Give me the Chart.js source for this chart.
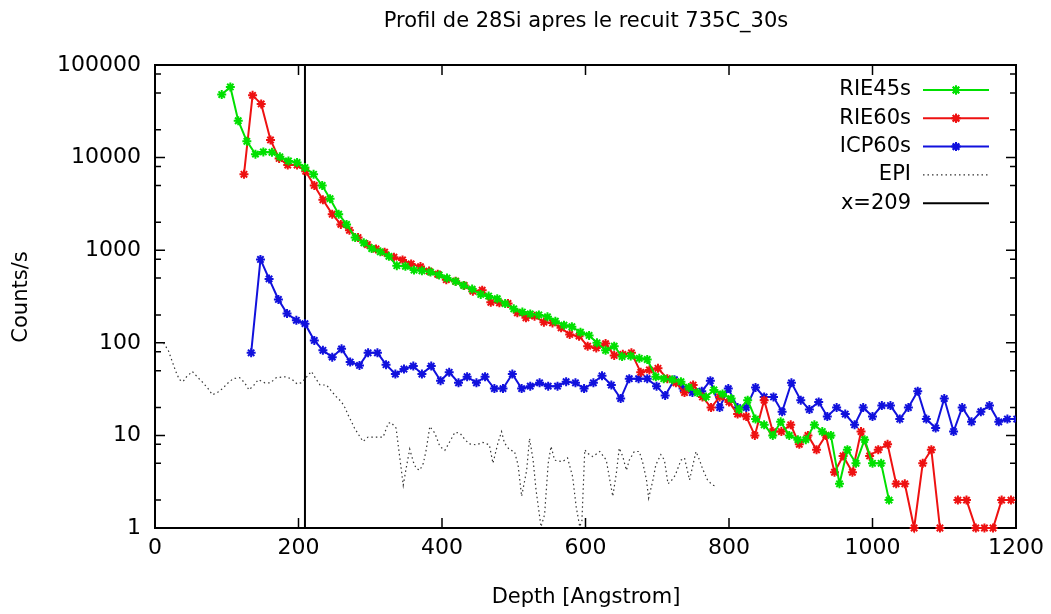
<!DOCTYPE html>
<html>
<head>
<meta charset="utf-8">
<script src="https://cdn.jsdelivr.net/npm/chart.js@4.4.1/dist/chart.umd.min.js"></script>
<style>
  html, body { margin: 0; padding: 0; background: #fff; }
  canvas { display: block; }
</style>
</head>
<body>
<canvas id="profil" width="1051" height="614"></canvas>
<script>
// depth in Angstrom / counts per second
var rie45Depth = [93, 105, 116, 128, 140, 151, 163, 174, 186, 198,
  209, 221, 233, 244, 256, 267, 279, 291, 302, 314,
  326, 337, 349, 361, 372, 384, 396, 407, 419, 430,
  442, 454, 465, 477, 488, 500, 512, 523, 535, 547,
  558, 570, 581, 593, 605, 616, 628, 640, 651, 663,
  675, 686, 698, 709, 721, 733, 744, 756, 768, 779,
  791, 803, 814, 826, 837, 849, 861, 872, 884, 896,
  907, 919, 930, 942, 954, 965, 977, 989, 1000, 1012,
  1023];
var rie45Counts = [48000, 58000, 25000, 15000, 10900, 11500, 11400, 10200, 9200, 8850,
  7800, 6600, 5000, 3600, 2450, 1900, 1370, 1200, 1040, 960,
  860, 680, 670, 610, 600, 580, 540, 500, 460, 417,
  380, 333, 320, 299, 265, 233, 215, 205, 200, 191,
  171, 155, 149, 130, 120, 100, 83, 92, 71, 72,
  68, 66, 43, 41, 40, 38, 33, 29, 26, 31,
  28, 25, 19, 24, 15, 13, 10, 14, 10, 9,
  9, 13, 11, 10, 3, 7, 5, 9, 5, 5,
  2];

var rie60Depth = [124, 136, 148, 161, 173, 185, 198, 210, 222, 234,
  247, 259, 271, 283, 296, 308, 320, 333, 345, 357,
  370, 382, 394, 406, 419, 431, 443, 456, 468, 480,
  492, 505, 517, 529, 542, 554, 566, 578, 591, 603,
  615, 628, 640, 652, 664, 677, 689, 701, 714, 726,
  738, 750, 763, 775, 787, 800, 812, 824, 836, 849,
  861, 873, 886, 898, 910, 922, 935, 947, 959, 972,
  984, 996, 1008, 1021, 1033, 1045, 1058, 1070, 1082, 1094,
  1107, 1119, 1131, 1144, 1156, 1168, 1180, 1193];
var rie60Counts = [6600, 47000, 38000, 15500, 9800, 8300, 8300, 7100, 5000, 3500,
  2450, 1900, 1640, 1370, 1150, 1030, 950, 840, 785, 710,
  665, 595, 550, 480, 463, 416, 361, 370, 274, 270,
  266, 211, 186, 194, 167, 164, 145, 123, 118, 92,
  88, 98, 73, 75, 78, 48, 51, 53, 41, 37,
  29, 35, 26, 20, 26, 23, 17, 16, 10, 24,
  11, 11, 13, 8, 10, 7, 10, 4, 6, 4,
  11, 6, 7, 8, 3, 3, 1, 5, 7, 1,
  null, 2, 2, 1, 1, 1, 2, 2];

var icp60Depth = [134, 147, 159, 172, 184, 197, 209, 222, 234, 247,
  260, 272, 285, 297, 310, 322, 335, 347, 360, 372,
  385, 398, 410, 423, 435, 448, 460, 473, 485, 498,
  511, 523, 536, 548, 561, 573, 586, 598, 611, 623,
  636, 649, 661, 674, 686, 699, 711, 724, 736, 749,
  762, 774, 787, 799, 812, 824, 837, 849, 862, 874,
  887, 900, 912, 925, 937, 950, 962, 975, 987, 1000,
  1013, 1025, 1038, 1050, 1063, 1075, 1088, 1100, 1113, 1125,
  1138, 1151, 1163, 1176, 1188, 1201];
var icp60Counts = [78, 795, 490, 294, 207, 175, 161, 106, 83, 70,
  86, 62, 57, 78, 78, 58, 46, 52, 56, 46,
  56, 39, 48, 37, 43, 37, 43, 32, 32, 46,
  32, 34, 37, 34, 34, 38, 37, 32, 37, 44,
  35, 25, 41, 41, 41, 34, 27, 40, 32, 29,
  30, 39, 20, 32, 20, 20, 33, 26, 26, 18,
  37, 24, 19, 23, 16, 20, 17, 13, 20, 16,
  21, 21, 15, 20, 30, 15, 12, 25, 11, 20,
  14, 18, 21, 14, 15, 15];

var epiDepth = [12, 19, 23, 29, 34, 39, 44, 52, 60, 67, 74, 80, 87, 94, 102, 109, 118, 125, 131, 138,
  144, 153, 161, 169, 181, 190, 198, 204, 218, 225, 230, 239, 246, 253, 260, 265, 269, 274, 278, 283,
  290, 297, 306, 318, 325, 329, 336, 341, 346, 350, 355, 360, 364, 369, 374, 378, 383, 390, 397, 404,
  411, 418, 425, 432, 438, 448, 457, 466, 471, 478, 483, 487, 494, 501, 506, 511, 518, 522, 527, 531,
  538, 543, 548, 552, 557, 568, 575, 582, 587, 592, 595, 599, 603, 610, 620, 629, 633, 638, 643, 647,
  652, 657, 661, 668, 675, 680, 685, 688, 694, 698, 705, 710, 715, 719, 725, 733, 738, 745, 754, 759,
  763, 770, 777, 782];
var epiCounts = [100, 81, 66, 49, 40, 38, 43, 49, 42, 37, 32, 27.5, 29, 32, 37, 41, 42, 37, 31, 35,
  40, 37, 37, 42, 43, 41, 36, 37, 49, 40, 35, 35, 30, 26, 23, 19.8, 16.7, 14, 12, 10.4,
  8.6, 9.6, 9.6, 9.6, 13.5, 13.8, 12, 5.9, 2.9, 4.4, 7.1, 5.2, 4.4, 4.2, 5, 7, 12.5, 10.6, 7.6, 6.9,
  8.6, 10.8, 10.6, 9, 8.1, 7.9, 8.4, 7.9, 5, 8.3, 11, 8.3, 7, 6.7, 4.8, 2.2, 4.2, 9.3, 5.4, 2.6,
  1.03, 1.4, 5, 7.6, 5.4, 5.2, 5.7, 3.6, 1.7, 1.03, 1.2, 7, 6.4, 5.9, 6.7, 5.4, 3.6, 2.2, 3.9, 7.3,
  5.9, 4.2, 5.4, 6.7, 6.7, 5, 3.3, 2.1, 3.3, 4.8, 6.2, 5.4, 3, 3.2, 3.7, 5.4, 5.7, 3.3, 6.7, 5.4,
  4.4, 3.3, 2.9, 2.85];

var markerDepth = 209;

var xTicks = [0, 200, 400, 600, 800, 1000, 1200];
var yTicks = [1, 10, 100, 1000, 10000, 100000];
var yMinorTicks = [2, 5, 8, 20, 50, 80, 200, 500, 800, 2000, 5000, 8000, 20000, 50000, 80000];

var FONT = '"DejaVu Sans", Verdana, sans-serif';

function toPoints(xs, ys) {
  return xs.map(function (x, i) { return { x: x, y: ys[i] }; });
}

function series(label, xs, ys, color) {
  return {
    label: label,
    data: toPoints(xs, ys),
    borderColor: color,
    backgroundColor: color,
    borderWidth: 2,
    pointStyle: 'star',
    pointRadius: 4.5,
    pointBorderWidth: 2,
    pointBorderColor: color,
    spanGaps: false,
    tension: 0
  };
}

// border + inward gnuplot style tics, mirrored on top/right
var frameTicks = {
  id: 'frameTicks',
  beforeDatasetsDraw: function (chart) {
    var ctx = chart.ctx, a = chart.chartArea;
    var xs = chart.scales.x, ys = chart.scales.y;
    ctx.save();
    ctx.strokeStyle = '#000';
    ctx.lineWidth = 1.5;
    ctx.beginPath();
    xTicks.forEach(function (v) {
      var px = xs.getPixelForValue(v);
      ctx.moveTo(px, a.bottom); ctx.lineTo(px, a.bottom - 10);
      ctx.moveTo(px, a.top); ctx.lineTo(px, a.top + 10);
    });
    yTicks.forEach(function (v) {
      var py = ys.getPixelForValue(v);
      ctx.moveTo(a.left, py); ctx.lineTo(a.left + 10, py);
      ctx.moveTo(a.right, py); ctx.lineTo(a.right - 10, py);
    });
    yMinorTicks.forEach(function (v) {
      var py = ys.getPixelForValue(v);
      ctx.moveTo(a.left, py); ctx.lineTo(a.left + 6, py);
      ctx.moveTo(a.right, py); ctx.lineTo(a.right - 6, py);
    });
    ctx.stroke();
    ctx.lineWidth = 2;
    ctx.strokeRect(a.left, a.top, a.right - a.left, a.bottom - a.top);
    ctx.restore();
  },
  afterDraw: function (chart) {
    var ctx = chart.ctx;
    ctx.save();
    ctx.fillStyle = '#000';
    ctx.font = '21px ' + FONT;
    ctx.textAlign = 'center';
    ctx.textBaseline = 'middle';
    ctx.fillText('Profil de 28Si apres le recuit 735C_30s', 586, 22);
    ctx.fillText('Depth [Angstrom]', 586, 598);
    ctx.save();
    ctx.translate(22, 297);
    ctx.rotate(-Math.PI / 2);
    ctx.fillText('Counts/s', 0, 0);
    ctx.restore();

    // key, top right inside the plot
    var rowY = 90;
    chart.data.datasets.forEach(function (ds) {
      ctx.font = '21px ' + FONT;
      ctx.textAlign = 'right';
      ctx.fillStyle = '#000';
      ctx.fillText(ds.label, 911, rowY);
      ctx.strokeStyle = ds.borderColor;
      ctx.lineWidth = ds.borderWidth;
      ctx.setLineDash(ds.borderDash || []);
      ctx.beginPath();
      ctx.moveTo(923, rowY);
      ctx.lineTo(989, rowY);
      ctx.stroke();
      ctx.setLineDash([]);
      if (ds.pointRadius > 0) {
        ctx.lineWidth = ds.pointBorderWidth;
        Chart.helpers.drawPoint(ctx, { pointStyle: ds.pointStyle, radius: ds.pointRadius, borderWidth: ds.pointBorderWidth, rotation: 0 }, 956, rowY);
        ctx.stroke();
      }
      rowY += 28.3;
    });
    ctx.restore();
  }
};

var ctx = document.getElementById('profil').getContext('2d');
var chart = new Chart(ctx, {
  type: 'line',
  data: {
    datasets: [
      series('RIE45s', rie45Depth, rie45Counts, '#00e000'),
      series('RIE60s', rie60Depth, rie60Counts, '#ee1111'),
      series('ICP60s', icp60Depth, icp60Counts, '#1111dd'),
      {
        label: 'EPI',
        data: toPoints(epiDepth, epiCounts),
        borderColor: '#333',
        borderWidth: 1.2,
        borderDash: [1.5, 3],
        pointRadius: 0,
        tension: 0
      },
      {
        label: 'x=' + markerDepth,
        data: [{ x: markerDepth, y: yTicks[0] }, { x: markerDepth, y: yTicks[yTicks.length - 1] }],
        borderColor: '#000',
        borderWidth: 2,
        pointRadius: 0
      }
    ]
  },
  options: {
    responsive: false,
    animation: false,
    devicePixelRatio: 1,
    clip: { left: 0, top: 0, right: 0, bottom: 6 },
    layout: { padding: { left: 0, right: 34, top: 65, bottom: 0 } },
    plugins: { legend: { display: false }, title: { display: false }, tooltip: { enabled: false } },
    scales: {
      x: {
        type: 'linear',
        min: 0,
        max: 1200,
        grid: { display: false, drawTicks: false },
        border: { display: false },
        afterBuildTicks: function (scale) {
          scale.ticks = xTicks.map(function (v) { return { value: v }; });
        },
        afterFit: function (scale) { scale.height = 86; },
        ticks: {
          padding: 7,
          maxRotation: 0,
          color: '#000',
          font: { family: FONT, size: 22 },
          callback: function (v) { return String(v); }
        }
      },
      y: {
        type: 'logarithmic',
        min: 1,
        max: 100000,
        grid: { display: false, drawTicks: false },
        border: { display: false },
        afterBuildTicks: function (scale) {
          scale.ticks = yTicks.map(function (v) { return { value: v }; });
        },
        afterFit: function (scale) { scale.width = 155; },
        ticks: {
          padding: 14,
          color: '#000',
          font: { family: FONT, size: 22 },
          callback: function (v) { return String(v); }
        }
      }
    }
  },
  plugins: [frameTicks]
});
</script>
</body>
</html>
